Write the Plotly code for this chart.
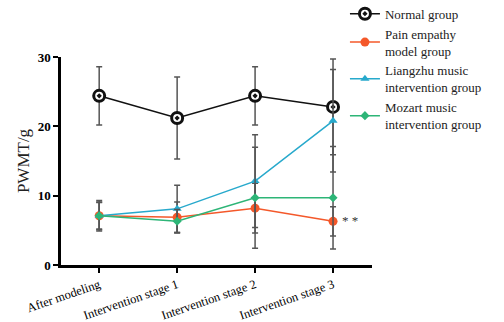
import plotly.graph_objects as go

stages = ['After modeling', 'Intervention stage 1', 'Intervention stage 2', 'Intervention stage 3']

normal = [24.4, 21.2, 24.4, 22.8]
normal_sd = [4.2, 5.9, 4.2, 6.9]

pain = [7.1, 6.9, 8.2, 6.3]
pain_sd = [2.0, 2.2, 3.6, 2.1]

liangzhu = [7.1, 8.1, 12.1, 20.8]
liangzhu_sd = [2.2, 3.4, 6.7, 7.4]

mozart = [7.1, 6.3, 9.7, 9.7]
mozart_sd = [1.9, 1.7, 7.3, 7.4]

serif = 'Liberation Serif'
err_color = '#555555'


def make_trace(y, sd, name, color, symbol, size, line_w=1.5, fill=None, mline=0):
    return go.Scatter(
        x=stages, y=y, name=name, mode='lines+markers',
        line=dict(color=color, width=line_w),
        marker=dict(symbol=symbol, size=size, color=fill or color,
                    line=dict(color=color, width=mline)),
        error_y=dict(type='data', array=sd, visible=True,
                     color=err_color, thickness=1.5, width=3),
    )


traces = [
    make_trace(normal, normal_sd, 'Normal group', '#111111', 'circle-dot', 11,
               line_w=1.5, fill='white', mline=3),
    make_trace(pain, pain_sd, 'Pain empathy<br>model group', '#F4582A', 'circle', 9),
    make_trace(liangzhu, liangzhu_sd, 'Liangzhu music<br>intervention group', '#27A9CC', 'triangle-up', 8),
    make_trace(mozart, mozart_sd, 'Mozart music<br>intervention group', '#2DB577', 'diamond', 7),
]

layout = go.Layout(
    width=504, height=322,
    margin=dict(l=61, r=132, t=57, b=57, autoexpand=False),
    plot_bgcolor='white', paper_bgcolor='white',
    font=dict(family=serif, color='#222222'),
    xaxis=dict(
        range=[-0.49, 3.5], showline=True, linecolor='black', linewidth=2.5,
        ticks='outside', ticklen=5, tickwidth=2, tickcolor='black',
        tickangle=-19, tickfont=dict(size=12.5, family=serif, color='black'),
        showgrid=False, zeroline=False,
    ),
    yaxis=dict(
        range=[0, 30], tickvals=[0, 10, 20, 30],
        showline=True, linecolor='black', linewidth=2.5,
        ticks='outside', ticklen=5, tickwidth=2, tickcolor='black',
        tickfont=dict(size=13, family=serif, color='black', weight='bold'),
        title=dict(text='PWMT/g', font=dict(size=17, family=serif, color='#222222'),
                   standoff=4),
        showgrid=False, zeroline=False,
    ),
    legend=dict(
        x=0.913, y=1.28, xanchor='left', yanchor='top',
        font=dict(size=13, family=serif, color='#222222'),
        tracegroupgap=3, bgcolor='rgba(0,0,0,0)',
    ),
    annotations=[dict(x=3, y=6.3, xref='x', yref='y', text='* *', showarrow=False,
                      xshift=17, yshift=1, font=dict(size=13, family=serif, color='#333333'))],
    showlegend=True,
)

fig = go.Figure(data=traces, layout=layout)
# page body has a default 8px margin; drop it so the figure sits at the corner
fig.write_html('out.html', config={'displayModeBar': False},
               post_script="document.body.style.margin='0';")
